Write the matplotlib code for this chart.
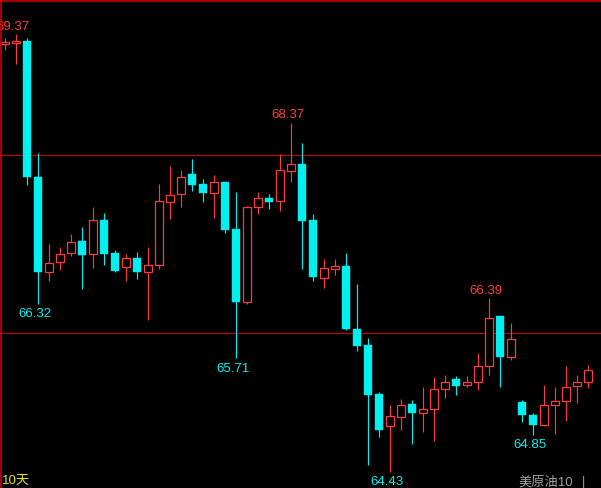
import matplotlib.pyplot as plt

# daily candles
opens = [69.26, 69.27, 69.29, 67.76, 66.68, 66.80, 66.90, 67.04, 66.89, 67.27,
         66.90, 66.74, 66.84, 66.68, 66.76, 67.48, 67.56, 67.79, 67.68, 67.58,
         67.70, 67.17, 66.35, 67.42, 67.52, 67.49, 67.83, 67.90, 67.27, 66.62,
         66.72, 66.75, 66.04, 65.86, 65.31, 64.95, 65.05, 65.20, 65.10, 65.14,
         65.37, 65.48, 65.41, 65.44, 65.62, 66.19, 65.73, 65.22, 65.07, 64.96,
         65.19, 65.23, 65.40, 65.44]
highs = [69.32, 69.37, 69.32, 68.03, 67.00, 66.97, 67.11, 67.19, 67.42, 67.35,
         66.93, 66.89, 66.91, 66.97, 67.68, 67.88, 67.84, 67.96, 67.73, 67.78,
         67.70, 67.59, 67.43, 67.59, 67.57, 68.02, 68.37, 68.14, 67.34, 66.83,
         66.83, 66.90, 66.55, 65.94, 65.33, 65.19, 65.25, 65.24, 65.39, 65.50,
         65.52, 65.51, 65.51, 65.77, 66.39, 66.19, 66.11, 65.24, 65.10, 65.41,
         65.39, 65.63, 65.52, 65.64]
lows = [69.19, 69.03, 67.67, 66.32, 66.58, 66.71, 66.87, 66.49, 66.73, 66.76,
        66.68, 66.58, 66.61, 66.14, 66.72, 67.28, 67.42, 67.60, 67.48, 67.29,
        67.13, 65.71, 66.33, 67.34, 67.40, 67.37, 67.70, 66.72, 66.58, 66.51,
        66.65, 66.03, 65.79, 64.51, 64.83, 64.43, 64.90, 64.75, 64.88, 64.78,
        65.26, 65.30, 65.39, 65.35, 65.52, 65.39, 65.69, 64.99, 64.85, 64.95,
        64.86, 65.01, 65.21, 65.38]
closes = [69.28, 69.29, 67.76, 66.69, 66.79, 66.89, 67.02, 66.88, 67.27, 66.89,
          66.70, 66.84, 66.69, 66.77, 67.49, 67.55, 67.76, 67.67, 67.58, 67.70,
          67.16, 66.35, 67.42, 67.52, 67.48, 67.84, 67.90, 67.26, 66.63, 66.73,
          66.75, 66.04, 65.85, 65.30, 64.90, 65.06, 65.18, 65.10, 65.14, 65.37,
          65.45, 65.40, 65.44, 65.62, 66.17, 65.73, 65.93, 65.07, 64.96, 65.19,
          65.23, 65.39, 65.44, 65.58]

# marked extremes: (candle index, 'high' or 'low')
marks = [(1, 'high'), (3, 'low'), (26, 'high'), (21, 'low'),
         (44, 'high'), (35, 'low'), (48, 'low')]
grid_levels = [68.0, 66.0]

up_color = '#ff3c3c'
down_color = '#00f0f0'

plt.rcParams['font.family'] = ['Liberation Sans', 'Noto Sans CJK SC']

fig = plt.figure(figsize=(6.01, 4.89), dpi=100, facecolor='black')
ax = fig.add_axes([0, 0, 1, 1])
ax.set_facecolor('black')

for lvl in grid_levels:
    ax.axhline(lvl, color='#d00000', lw=0.72, ls=(0, (1.0, 1.0)),
               antialiased=False, zorder=1)

for i in range(len(opens)):
    o, h, l, c = opens[i], highs[i], lows[i], closes[i]
    top = max(o, c)
    bot = min(o, c)
    if c >= o:
        col = up_color
        ax.vlines(i, top, h, color=col, lw=0.85, zorder=2)
        ax.vlines(i, l, bot, color=col, lw=0.85, zorder=2)
        ax.bar(i, max(top - bot, 0.002), bottom=bot, width=0.73,
               facecolor='black', edgecolor=col, linewidth=0.9, zorder=3)
    else:
        col = down_color
        ax.vlines(i, l, h, color=col, lw=0.85, zorder=2)
        ax.bar(i, top - bot, bottom=bot, width=0.8,
               facecolor=col, edgecolor=col, linewidth=0.3, zorder=3)

for idx, kind in marks:
    if kind == 'high':
        ax.annotate(f'{highs[idx]:.2f}', (idx, highs[idx]), xytext=(-2, 6),
                    textcoords='offset points', ha='center', va='center',
                    color=up_color, fontsize=9.5)
    else:
        ax.annotate(f'{lows[idx]:.2f}', (idx, lows[idx]), xytext=(-2, -6.5),
                    textcoords='offset points', ha='center', va='center',
                    color=down_color, fontsize=9.5)

ax.set_xlim(-5 / 11, 596 / 11)
ax.set_ylim(64.2493, 69.7648)
ax.axis('off')

# frame lines on top and left
fig.add_artist(plt.Line2D([0, 1], [0.9955, 0.9955], color='#c80000', lw=1.2))
fig.add_artist(plt.Line2D([0.0015, 0.0015], [0, 1], color='#c80000', lw=1.2))

fig.text(0.004, 0.016, '10天', color='#e6e600', fontsize=9.5, va='center')
fig.text(0.863, 0.014, '美原油10', color='#a0a0a0', fontsize=9.5, va='center')
fig.text(0.968, 0.014, '|', color='#a0a0a0', fontsize=9, va='center')

plt.savefig('out.png', dpi=100, facecolor='black')
